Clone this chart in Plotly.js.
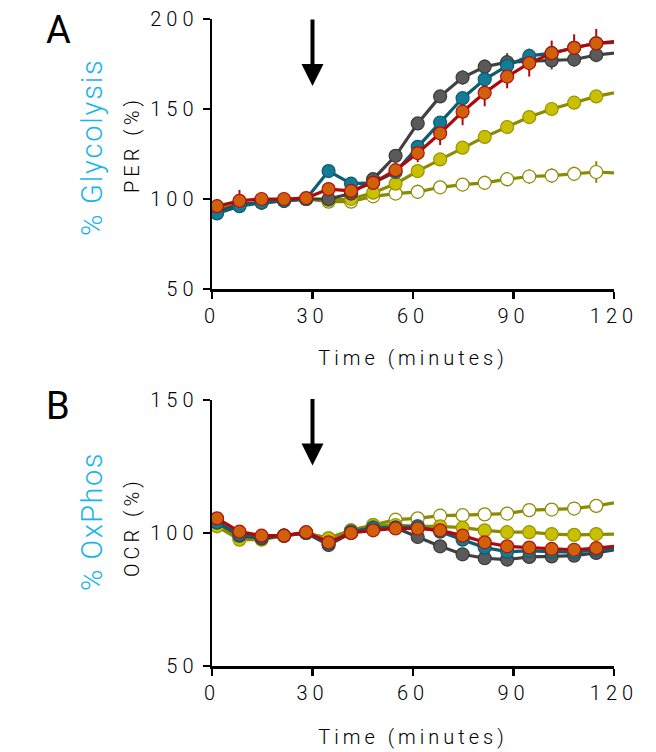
<!DOCTYPE html>
<html>
<head>
<meta charset="utf-8">
<script src="https://cdn.plot.ly/plotly-3.0.1.min.js"></script>
<style>
  html, body { margin: 0; padding: 0; background: #fff; }
  #chart { width: 656px; height: 752px; }
  .xtick text, .x2tick text, .ytick text, .y2tick text { letter-spacing: 5px; }
  .g-xtitle text, .g-x2title text { letter-spacing: 4px; }
</style>
</head>
<body>
<div id="chart"></div>
<script>
// Time points (minutes); the final point at 120 only continues the line to the axis end
const time = [1.5, 8.2, 14.8, 21.5, 28.1, 34.8, 41.5, 48.1, 54.8, 61.4, 68.1, 74.8, 81.4, 88.1, 94.7, 101.4, 108.1, 114.7, 120];

// Panel A: PER (%)
const perGray   = [93, 97, 98, 99, 100, 100, 103, 111, 124, 142, 157, 167.5, 173.5, 176, 176.5, 177, 177.5, 180, 181];
const perBlue   = [92, 96, 98, 99, 100, 115.5, 108.5, 109, 115, 129, 142.5, 156, 166.5, 174, 179.5, 181, 184, 186.5, 187];
const perOrange = [96, 99, 100, 100, 100.5, 105.5, 104.5, 109, 116, 125.5, 136.5, 148.5, 159, 168, 175.5, 181, 184, 186.5, 187.5];
const perYellow = [95, 97, 98, 99, 100, 99.5, 100, 103.5, 108.5, 115.5, 122, 128.5, 134.5, 140, 145.5, 150, 153.5, 157, 159];
const perOpen   = [95, 97, 98, 99, 100, 98.5, 98.5, 101.5, 103, 104, 106.5, 108, 109, 111, 112.5, 113, 114, 115, 114.5];

const perGrayErr   = [2, 2, 1, 1, 1, 1, 1, 2, 2, 2, 3, 4, 4, 5, 5, 5, 4, 4, 0];
const perBlueErr   = [2, 2, 1, 1, 1, 2, 2, 2, 2, 3, 3, 3, 3, 3, 4, 3, 3, 3, 0];
const perOrangeErr = [4, 6, 2, 1, 1, 2, 2, 2, 3, 5, 6.5, 7.5, 7.5, 6.5, 7.5, 7, 7.5, 8, 0];
const perYellowErr = [1, 1, 1, 1, 1, 1, 1, 1, 1, 1, 1, 1, 1, 1, 1, 1, 1, 1, 0];
const perOpenErr   = [2, 2, 1, 1, 1, 1, 1, 2, 3, 4, 3, 3, 4, 4, 4, 4, 4, 6, 0];

// Panel B: OCR (%)
const ocrGray   = [104, 99, 98, 99, 100, 95.5, 100, 102, 102, 98.5, 95, 92, 90.5, 90, 91, 91.2, 91.5, 92.5, 93.7];
const ocrBlue   = [104, 99.5, 98.5, 99, 100, 96, 100.5, 102, 102, 102.5, 100.5, 97.5, 94.5, 93, 93.3, 93, 92.8, 93.6, 94];
const ocrOrange = [105.5, 100.5, 99, 99, 100.3, 96.5, 100, 101, 101.7, 101.7, 101, 99, 96.5, 95, 94.5, 94, 93.7, 94.3, 95];
const ocrYellow = [102.5, 97.5, 97.5, 99, 100, 98, 101, 103, 103, 102.5, 102.5, 102, 101, 100.3, 100.3, 99.6, 99.3, 99.6, 99.6];
const ocrOpen   = [103, 98, 98, 99, 100, 98, 101, 103, 105, 105.5, 106.5, 106.7, 107, 107.3, 108.6, 108.8, 109.2, 110.2, 111.3];

const xTicks = [0, 30, 60, 90, 120];
const perTicks = [50, 100, 150, 200];
const ocrTicks = [50, 100, 150];

const styles = {
  open:   { line: '#8c8a00', fill: '#ffffff', edge: '#8c8a00' },
  yellow: { line: '#8c8a00', fill: '#c8c000', edge: '#9a9400' },
  gray:   { line: '#404040', fill: '#5a5a5a', edge: '#3a3a3a' },
  blue:   { line: '#0d5d72', fill: '#137b96', edge: '#0d5d72' },
  orange: { line: '#b00808', fill: '#d0600a', edge: '#b01010' }
};

const sizes = time.map((t, i) => i === time.length - 1 ? 0 : 13);

function trace(y, st, xa, ya) {
  return {
    x: time, y: y, xaxis: xa, yaxis: ya,
    type: 'scatter', mode: 'lines+markers',
    line: { color: st.line, width: 3.2 },
    marker: { size: sizes, opacity: 1, color: st.fill, line: { color: st.edge, width: 1.2 } },
    showlegend: false, hoverinfo: 'x+y', cliponaxis: false
  };
}
function errTrace(y, err, st, xa, ya) {
  return {
    x: time, y: y, xaxis: xa, yaxis: ya,
    type: 'scatter', mode: 'markers',
    marker: { size: 1, opacity: 0, color: st.line },
    error_y: { type: 'data', array: err, visible: true, color: st.line, thickness: 2, width: 0 },
    showlegend: false, hoverinfo: 'skip', cliponaxis: false
  };
}

const data = [
  errTrace(perOpen, perOpenErr, styles.open, 'x', 'y'),
  errTrace(perYellow, perYellowErr, styles.yellow, 'x', 'y'),
  errTrace(perGray, perGrayErr, styles.gray, 'x', 'y'),
  errTrace(perBlue, perBlueErr, styles.blue, 'x', 'y'),
  errTrace(perOrange, perOrangeErr, styles.orange, 'x', 'y'),
  trace(perOpen, styles.open, 'x', 'y'),
  trace(perYellow, styles.yellow, 'x', 'y'),
  trace(perGray, styles.gray, 'x', 'y'),
  trace(perBlue, styles.blue, 'x', 'y'),
  trace(perOrange, styles.orange, 'x', 'y'),
  trace(ocrOpen, styles.open, 'x2', 'y2'),
  trace(ocrYellow, styles.yellow, 'x2', 'y2'),
  trace(ocrGray, styles.gray, 'x2', 'y2'),
  trace(ocrBlue, styles.blue, 'x2', 'y2'),
  trace(ocrOrange, styles.orange, 'x2', 'y2')
];

const tickFont = { family: 'Roboto, sans-serif', size: 20, color: '#000', weight: 300 };
const axisCommon = {
  showline: true, linecolor: '#000', linewidth: 2.5,
  ticks: 'outside', ticklen: 7, tickwidth: 2.5, tickcolor: '#000',
  showgrid: false, zeroline: false, tickfont: tickFont, fixedrange: true
};

const xDom = [212 / 656, 614 / 656];
const titleFont = { family: 'Roboto, sans-serif', size: 20, color: '#000', weight: 300 };

const layout = {
  width: 656, height: 752,
  margin: { l: 0, r: 0, t: 0, b: 0 },
  paper_bgcolor: '#fff', plot_bgcolor: '#fff',
  font: { family: 'Roboto, sans-serif' },
  xaxis: Object.assign({}, axisCommon, {
    domain: xDom, range: [0, 120], tickvals: xTicks, anchor: 'y',
    title: { text: 'Time (minutes)', font: titleFont, standoff: 25 }
  }),
  yaxis: Object.assign({}, axisCommon, {
    domain: [1 - 289 / 752, 1 - 19 / 752], range: [50, 200], tickvals: perTicks, anchor: 'x'
  }),
  xaxis2: Object.assign({}, axisCommon, {
    domain: xDom, range: [0, 120], tickvals: xTicks, anchor: 'y2',
    title: { text: 'Time (minutes)', font: titleFont, standoff: 27 }
  }),
  yaxis2: Object.assign({}, axisCommon, {
    domain: [1 - 666 / 752, 1 - 400 / 752], range: [50, 150], tickvals: ocrTicks, anchor: 'x2'
  }),
  annotations: [
    { text: 'A', xref: 'paper', yref: 'paper', x: 58 / 656, y: 1 - 30 / 752, showarrow: false,
      font: { family: 'Roboto, sans-serif', size: 38, color: '#000' }, xanchor: 'center', yanchor: 'middle' },
    { text: 'B', xref: 'paper', yref: 'paper', x: 58 / 656, y: 1 - 406 / 752, showarrow: false,
      font: { family: 'Roboto, sans-serif', size: 38, color: '#000' }, xanchor: 'center', yanchor: 'middle' },
    { text: '<span style="letter-spacing:1.8px">% Glycolysis</span>', xref: 'paper', yref: 'paper', x: 92 / 656, y: 1 - 147 / 752, showarrow: false,
      textangle: -90, font: { family: 'Roboto, sans-serif', size: 29, color: '#1ab4ec', weight: 300 }, xanchor: 'center', yanchor: 'middle' },
    { text: '<span style="letter-spacing:4px">PER (%)</span>', xref: 'paper', yref: 'paper', x: 132 / 656, y: 1 - 145 / 752, showarrow: false,
      textangle: -90, font: { family: 'Roboto, sans-serif', size: 20, color: '#000', weight: 300 }, xanchor: 'center', yanchor: 'middle' },
    { text: '<span style="letter-spacing:1.5px">% OxPhos</span>', xref: 'paper', yref: 'paper', x: 92 / 656, y: 1 - 522 / 752, showarrow: false,
      textangle: -90, font: { family: 'Roboto, sans-serif', size: 29, color: '#1ab4ec', weight: 300 }, xanchor: 'center', yanchor: 'middle' },
    { text: '<span style="letter-spacing:4px">OCR (%)</span>', xref: 'paper', yref: 'paper', x: 132 / 656, y: 1 - 527 / 752, showarrow: false,
      textangle: -90, font: { family: 'Roboto, sans-serif', size: 20, color: '#000', weight: 300 }, xanchor: 'center', yanchor: 'middle' },
    { x: 30, y: 162.8, xref: 'x', yref: 'y', ax: 0, ay: -68, axref: 'pixel', ayref: 'pixel', text: '',
      showarrow: true, arrowhead: 2, arrowsize: 1.1, arrowwidth: 4, arrowcolor: '#000', standoff: 0 },
    { x: 30, y: 125.4, xref: 'x2', yref: 'y2', ax: 0, ay: -68, axref: 'pixel', ayref: 'pixel', text: '',
      showarrow: true, arrowhead: 2, arrowsize: 1.1, arrowwidth: 4, arrowcolor: '#000', standoff: 0 }
  ]
};

Plotly.newPlot('chart', data, layout, { displayModeBar: false, staticPlot: true });
</script>
</body>
</html>
